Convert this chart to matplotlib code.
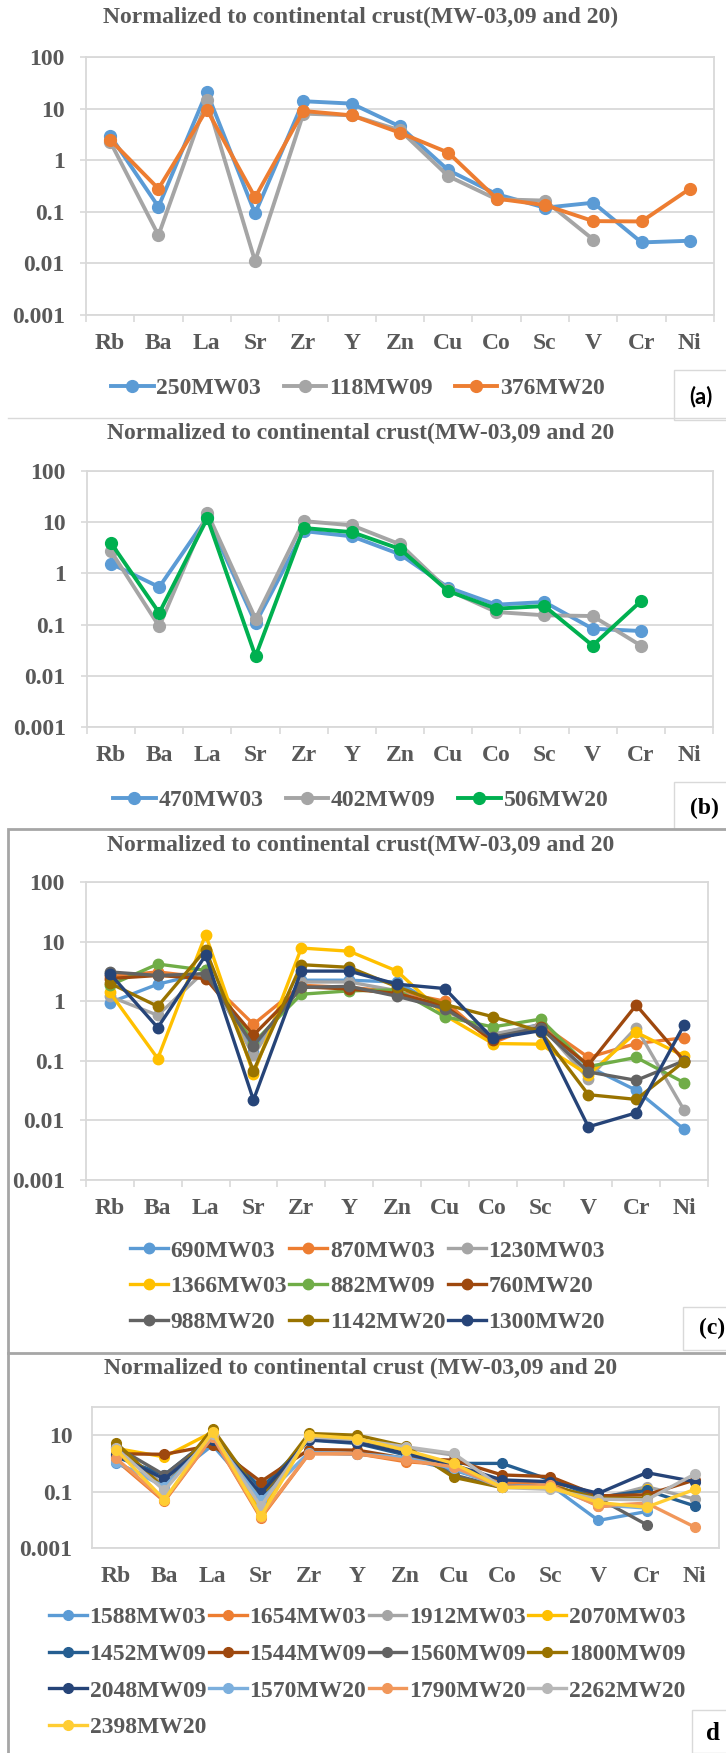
import numpy as np
import matplotlib
matplotlib.use("Agg")
import matplotlib.pyplot as plt
from matplotlib.ticker import FixedLocator, NullLocator
from matplotlib.patches import Rectangle

nan = np.nan

# ---------------------------------------------------------------- data
elements = ["Rb", "Ba", "La", "Sr", "Zr", "Y", "Zn", "Cu", "Co", "Sc", "V", "Cr", "Ni"]

# panel (a)
a_names = ["250MW03", "118MW09", "376MW20"]
a_250MW03 = [3.0, 0.125, 21, 0.093, 13.9, 12.5, 4.5, 0.64, 0.22, 0.12, 0.15, 0.0255, 0.0275]
a_118MW09 = [2.3, 0.035, 14.5, 0.011, 8.0, 7.4, 3.8, 0.49, 0.175, 0.165, 0.029, nan, nan]
a_376MW20 = [2.5, 0.28, 9.6, 0.19, 9.0, 7.4, 3.4, 1.4, 0.18, 0.135, 0.066, 0.065, 0.28]

# panel (b)
b_names = ["470MW03", "402MW09", "506MW20"]
b_470MW03 = [1.55, 0.54, 12.6, 0.107, 6.7, 5.3, 2.36, 0.53, 0.245, 0.276, 0.083, 0.075, nan]
b_402MW09 = [2.7, 0.092, 15.1, 0.13, 10.5, 8.7, 3.7, 0.47, 0.176, 0.152, 0.147, 0.039, nan]
b_506MW20 = [3.9, 0.169, 12.0, 0.024, 7.7, 6.4, 3.0, 0.45, 0.205, 0.23, 0.039, 0.285, nan]

# panel (c)
c_names = ["690MW03", "870MW03", "1230MW03", "1366MW03", "882MW09",
           "760MW20", "988MW20", "1142MW20", "1300MW20"]
c_690MW03 = [0.95, 1.93, 3.0, 0.14, 2.25, 2.25, 2.1, 0.75, 0.27, 0.41, 0.08, 0.032, 0.0071]
c_870MW03 = [2.6, 3.1, 2.5, 0.41, 1.85, 1.7, 1.45, 1.0, 0.2, 0.42, 0.114, 0.195, 0.243]
c_1230MW03 = [1.2, 0.58, 3.3, 0.124, 2.1, 2.1, 1.5, 0.7, 0.28, 0.4, 0.05, 0.36, 0.0149]
c_1366MW03 = [1.4, 0.109, 13.1, 0.06, 7.8, 6.9, 3.2, 0.58, 0.195, 0.19, 0.058, 0.30, 0.12]
c_882MW09 = [1.85, 4.2, 3.3, 0.2, 1.31, 1.49, 1.55, 0.55, 0.37, 0.5, 0.08, 0.114, 0.043]
c_760MW20 = [2.4, 2.7, 2.4, 0.27, 1.75, 1.6, 1.35, 0.83, 0.22, 0.37, 0.085, 0.86, 0.1]
c_988MW20 = [3.1, 2.7, 2.9, 0.178, 1.7, 1.78, 1.21, 0.75, 0.25, 0.36, 0.065, 0.047, 0.1]
c_1142MW20 = [2.0, 0.82, 7.3, 0.068, 4.1, 3.7, 1.75, 0.88, 0.55, 0.31, 0.027, 0.0225, 0.097]
c_1300MW20 = [2.9, 0.36, 5.9, 0.022, 3.2, 3.2, 1.93, 1.63, 0.237, 0.32, 0.0078, 0.0134, 0.40]

# panel (d)
d_names = ["1588MW03", "1654MW03", "1912MW03", "2070MW03", "1452MW09", "1544MW09",
           "1560MW09", "1800MW09", "2048MW09", "1570MW20", "1790MW20", "2262MW20", "2398MW20"]
d_1588MW03 = [1.0, 0.2, 4.4, 0.05, 2.4, 2.1, 1.5, 0.58, 0.17, 0.17, 0.0095, 0.0197, nan]
d_1654MW03 = [1.3, 0.045, 8.7, 0.0115, 2.2, 2.2, 1.15, 0.87, 0.2, 0.225, 0.03, 0.034, nan]
d_1912MW03 = [3.9, 0.17, 11, 0.039, 8.7, 7.0, 3.5, 1.97, 0.15, 0.14, 0.054, 0.15, 0.054]
d_2070MW03 = [3.4, 1.7, 13, 0.02, 9.5, 7.2, 2.6, 0.76, 0.14, 0.15, 0.044, 0.12, nan]
d_1452MW09 = [1.7, 0.39, 8.7, 0.13, 6.7, 5.1, 2.0, 1.0, 1.0, 0.26, 0.063, 0.11, 0.031]
d_1544MW09 = [2.2, 2.1, 4.4, 0.225, 3.1, 2.95, 1.5, 1.3, 0.39, 0.34, 0.071, 0.077, 0.26]
d_1560MW09 = [3.9, 0.39, 8.7, 0.058, 8.3, 6.6, 3.1, 0.39, 0.14, 0.16, 0.058, 0.0067, nan]
d_1800MW09 = [5.4, 0.13, 17, 0.066, 11.5, 10, 4.1, 0.32, 0.14, 0.16, 0.058, 0.058, nan]
d_2048MW09 = [1.97, 0.28, 6.7, 0.087, 7.0, 5.4, 2.25, 0.87, 0.26, 0.225, 0.087, 0.47, 0.225]
d_1570MW20 = [1.1, 0.15, 8.7, 0.05, 2.4, 2.2, 1.6, 0.66, 0.14, 0.15, 0.034, 0.026, nan]
d_1790MW20 = [1.5, 0.05, 8.7, 0.013, 2.2, 2.2, 1.3, 0.76, 0.14, 0.17, 0.031, 0.039, 0.0055]
d_2262MW20 = [3.4, 0.11, 11, 0.03, 8.7, 7.0, 3.9, 2.25, 0.14, 0.12, 0.054, 0.051, 0.42]
d_2398MW20 = [3.1, 0.051, 13.1, 0.0131, 10, 7.6, 2.95, 1.0, 0.14, 0.14, 0.041, 0.028, 0.12]

ytick_full = [1e-3, 1e-2, 1e-1, 1, 10, 100]
ylab_full = ["0.001", "0.01", "0.1", "1", "10", "100"]
ytick_sparse = [1e-3, 1e-1, 10]
ylab_sparse = ["0.001", "0.1", "10"]

# ---------------------------------------------------------------- styling
W, H = 726, 1753
GRID = "#d9d9d9"
TXT = "#595959"
SERIF = "Liberation Serif"
FS = 17

BLUE, ORANGE, GREY, GOLD = "#5b9bd5", "#ed7d31", "#a5a5a5", "#ffc000"
GREEN, BGREEN = "#70ad47", "#00b050"
DBLUE2, BROWN, DGREY, DGOLD, NAVY = "#255e91", "#9e480e", "#636363", "#997300", "#264478"
LBLUE, LORANGE, LGREY, LGOLD = "#7cafdd", "#f1975a", "#b7b7b7", "#ffcd33"

fig = plt.figure(figsize=(W / 100, H / 100), dpi=100)


def px_axes(left, top, right, bottom, **kw):
    return fig.add_axes([left / W, 1 - bottom / H, (right - left) / W, (bottom - top) / H], **kw)


def chart(box, series, colors, yticks, ylabels, boxed=False, lw=2.6, ms=7.5,
          xpad=13, ypad=11, ytick_len=4.3):
    ax = px_axes(*box)
    x = np.arange(len(elements))
    lines = []
    for vals, col in zip(series, colors):
        ln, = ax.plot(x, vals, color=col, lw=lw, marker="o", ms=ms,
                      markerfacecolor=col, markeredgecolor=col, solid_joinstyle="round",
                      clip_on=False, zorder=3)
        lines.append(ln)
    ax.set_yscale("log")
    ax.set_ylim(1e-3, 1e2)
    ax.set_xlim(-0.5, len(elements) - 0.5)
    ax.yaxis.set_major_locator(FixedLocator(yticks))
    ax.yaxis.set_minor_locator(NullLocator())
    ax.set_yticklabels(ylabels)
    ax.set_xticks(x)
    ax.set_xticklabels(elements)
    ax.xaxis.set_minor_locator(FixedLocator(np.arange(-0.5, len(elements), 1.0)))
    ax.grid(axis="y", which="major", color=GRID, lw=1.3, zorder=0)
    ax.set_axisbelow(True)
    for s in ax.spines.values():
        s.set_color(GRID)
        s.set_linewidth(1.3)
    if boxed:
        ax.tick_params(axis="x", which="minor", length=0)
        ax.tick_params(axis="y", which="major", length=0, pad=ypad)
    else:
        ax.tick_params(axis="x", which="minor", length=5, width=1.2, color=GRID)
        ax.tick_params(axis="y", which="major", length=ytick_len, width=1.2, color=GRID, pad=ypad)
    ax.tick_params(axis="x", which="major", length=0, pad=xpad)
    for lab in ax.get_xticklabels() + ax.get_yticklabels():
        lab.set_fontfamily(SERIF)
        lab.set_fontweight("bold")
        lab.set_fontsize(FS)
        lab.set_color(TXT)
    return ax, lines


def title(text, y, x=361):
    fig.text(x / W, 1 - y / H, text, ha="center", va="center", fontfamily=SERIF,
             fontweight="bold", fontsize=17, color=TXT)


def legend(handles, labels, ncol, x, y, colspace, hlen=1.8, lspace=0.5):
    leg = fig.legend(handles, labels, ncol=ncol, loc="center left",
                     bbox_to_anchor=(x / W, 1 - y / H), frameon=False,
                     prop={"family": SERIF, "weight": "bold", "size": FS},
                     handlelength=hlen, handletextpad=0.12, columnspacing=colspace,
                     labelspacing=lspace, borderpad=0, borderaxespad=0)
    for t in leg.get_texts():
        t.set_color(TXT)
    return leg


def row_major(items, ncol):
    # matplotlib fills legend columns first; reorder so entries read across rows
    n = len(items)
    nrows = int(np.ceil(n / ncol))
    out = []
    for c in range(ncol):
        for r in range(nrows):
            i = r * ncol + c
            if i < n:
                out.append(items[i])
    return out


# ---------------------------------------------------------------- panel (a)
title("Normalized to continental crust(MW-03,09 and 20)", 17)
ax_a, la = chart((86, 57, 714, 315), [a_250MW03, a_118MW09, a_376MW20],
                 [BLUE, GREY, ORANGE], ytick_full, ylab_full, lw=2.8, ms=8.5)
legend(la, a_names, 3, 111, 388, 0.95)

# ---------------------------------------------------------------- panel (b)
title("Normalized to continental crust(MW-03,09 and 20", 433)
ax_b, lb = chart((87, 471, 713, 727), [b_470MW03, b_402MW09, b_506MW20],
                 [BLUE, GREY, BGREEN], ytick_full, ylab_full, lw=2.8, ms=8.5)
legend(lb, b_names, 3, 113, 800, 0.95)

# ---------------------------------------------------------------- panel (c)
title("Normalized to continental crust(MW-03,09 and 20", 845)
c_series = [c_690MW03, c_870MW03, c_1230MW03, c_1366MW03, c_882MW09,
            c_760MW20, c_988MW20, c_1142MW20, c_1300MW20]
c_colors = [BLUE, ORANGE, GREY, GOLD, GREEN, BROWN, DGREY, DGOLD, NAVY]
ax_c, lc = chart((86, 882, 708, 1180), c_series, c_colors, ytick_full, ylab_full,
                 lw=2.4, ms=7.5)
legend(row_major(lc, 3), row_major(c_names, 3), 3, 130, 1286.5, 0.1, hlen=1.6,
       lspace=0.6)

# ---------------------------------------------------------------- panel (d)
title("Normalized to continental crust (MW-03,09 and 20", 1368)
d_series = [d_1588MW03, d_1654MW03, d_1912MW03, d_2070MW03, d_1452MW09, d_1544MW09,
            d_1560MW09, d_1800MW09, d_2048MW09, d_1570MW20, d_1790MW20, d_2262MW20,
            d_2398MW20]
d_colors = [BLUE, ORANGE, GREY, GOLD, DBLUE2, BROWN, DGREY, DGOLD, NAVY,
            LBLUE, LORANGE, LGREY, LGOLD]
ax_d, ld = chart((92, 1407, 719, 1548), d_series, d_colors, ytick_sparse, ylab_sparse,
                 boxed=True, lw=2.4, ms=7.0, ypad=14)
legend(row_major(ld, 4), row_major(d_names, 4), 4, 49, 1672.5, 0.1, hlen=1.6,
       lspace=0.64)

# ---------------------------------------------------------------- frames and panel tags
ov = fig.add_axes([0, 0, 1, 1], facecolor="none", zorder=10)
ov.set_xlim(0, W)
ov.set_ylim(H, 0)
ov.axis("off")

ov.plot([8, W], [418, 418], color=GRID, lw=1.0)
FRAME = "#a6a6a6"
ov.plot([W, 8, 8], [829, 829, H], color=FRAME, lw=2.0, solid_joinstyle="miter")
ov.plot([8, W], [1353, 1353], color=FRAME, lw=2.0)

for (x0, y0, y1) in [(674, 370, 420), (674, 782, 829), (683, 1307, 1350), (692, 1710, H)]:
    ov.add_patch(Rectangle((x0, y0), W + 5 - x0, y1 - y0, facecolor="white",
                           edgecolor=GRID, lw=1.0))

ov.text(701, 397, "(a)", ha="center", va="center", fontfamily="Lato",
        fontweight="bold", fontsize=16, color="black")
ov.text(704, 808, "(b)", ha="center", va="center", fontfamily=SERIF,
        fontweight="bold", fontsize=17, color="black")
ov.text(712, 1328, "(c)", ha="center", va="center", fontfamily=SERIF,
        fontweight="bold", fontsize=17, color="black")
ov.text(713, 1734, "d", ha="center", va="center", fontfamily=SERIF,
        fontweight="bold", fontsize=18, color="black")

fig.savefig("out.png", dpi=100, facecolor="white")
